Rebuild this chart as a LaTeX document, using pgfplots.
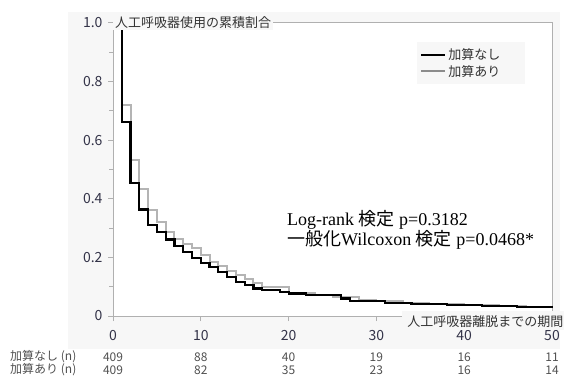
\documentclass[border=0pt]{standalone}
\usepackage{pgfplots}
\pgfplotsset{compat=1.18}
\usepackage{fontspec}
\setmainfont{Liberation Serif}
\newfontfamily\jp{Noto Sans CJK JP}
\definecolor{panel}{HTML}{F7F7F7}
\definecolor{framec}{HTML}{B0B0B0}
\definecolor{ticklab}{HTML}{333348}
\definecolor{curvegray}{HTML}{B4B4B4}
\definecolor{risktext}{HTML}{505050}
\tikzset{risk/.style={font=\jp\fontsize{12}{12}\selectfont, text=risktext}}
\begin{document}
\begin{tikzpicture}[x=1pt,y=1pt]
\useasboundingbox (0,0) rectangle (564,376);
\fill[panel] (68,27) rectangle (560,364);
\begin{axis}[
  name=a,
  at={(113pt,60pt)}, anchor=south west,
  scale only axis, width=439pt, height=293.3pt,
  xmin=0, xmax=50, ymin=0, ymax=1,
  clip=false,
  axis background/.style={fill=white},
  axis line style={framec, line width=0.9pt},
  xtick={0,10,20,30,40,50},
  xticklabels={0,10,20,30,40,50},
  ytick={0,0.2,0.4,0.6,0.8,1.0},
  yticklabels={0,0.2,0.4,0.6,0.8,1.0},
  minor ytick={0.1,0.3,0.5,0.7,0.9},
  tick align=outside, tick pos=left,
  major tick length=5pt, minor tick length=4pt,
  tick style={framec, line width=0.9pt},
  ticklabel style={font=\jp\fontsize{14}{14}\selectfont, text=ticklab},
  yticklabel style={xshift=-2pt},
  xticklabel style={yshift=-6pt},
  legend style={at={(0.6925,0.934)}, anchor=north west, fill=panel, draw=none,
    font=\jp\fontsize{13}{15}\selectfont, text=black!80, inner xsep=3pt, inner ysep=4.5pt, row sep=0pt},
  legend cell align=left,
  legend image code/.code={\draw[#1] (0pt,0pt) -- (24pt,0pt);},
]
\addplot[const plot, draw=curvegray, line width=2pt, forget plot] coordinates {
(1,0.975)(1,0.719)(2,0.532)(3,0.433)(4,0.361)(5,0.321)(6,0.287)(7,0.262)(8,0.245)(9,0.231)(10,0.208)(11,0.185)(12,0.170)(13,0.154)(14,0.140)(15,0.125)(16,0.111)(17,0.100)(20,0.080)(23,0.072)(25,0.066)(28,0.056)(30,0.050)(33,0.045)(36,0.040)(40,0.036)(44,0.033)(47,0.030)(50,0.030)
};
\addplot[const plot, draw=black, line width=2.2pt] coordinates {
(1,0.975)(1,0.662)(2,0.454)(3,0.363)(4,0.310)(5,0.287)(6,0.261)(7,0.238)(8,0.219)(9,0.197)(10,0.182)(11,0.168)(12,0.151)(13,0.134)(14,0.117)(15,0.106)(16,0.094)(17,0.089)(19,0.083)(20,0.077)(22,0.072)(26,0.060)(27,0.052)(31,0.045)(34,0.041)(38,0.038)(42,0.035)(46,0.032)(50,0.030)
};
\addlegendentry{加算なし\hspace*{20pt}}
\addlegendimage{draw=black!45, line width=2pt}
\addlegendentry{加算あり\hspace*{20pt}}
% numbers at risk
\node[risk] at (axis cs:0,-0.140) {409};
\node[risk] at (axis cs:10,-0.140) {88};
\node[risk] at (axis cs:20,-0.140) {40};
\node[risk] at (axis cs:30,-0.140) {19};
\node[risk] at (axis cs:40,-0.140) {16};
\node[risk] at (axis cs:50,-0.140) {11};
\node[risk] at (axis cs:0,-0.184) {409};
\node[risk] at (axis cs:10,-0.184) {82};
\node[risk] at (axis cs:20,-0.184) {35};
\node[risk] at (axis cs:30,-0.184) {23};
\node[risk] at (axis cs:40,-0.184) {16};
\node[risk] at (axis cs:50,-0.184) {14};
\end{axis}
% y axis title on top border
\node[anchor=west, fill=panel, inner xsep=2pt, inner ysep=1.5pt, font=\jp\fontsize{13}{13}\selectfont, text=black!80] at (a.north west) {人工呼吸器使用の累積割合};
% x axis title at bottom right
\fill[panel] (402,46) rectangle (564,65);
\node[anchor=east, inner sep=0.5pt, font=\jp\fontsize{13}{13}\selectfont, text=black!80] at (564,54) {人工呼吸器離脱までの期間};
% annotation
\node[anchor=base west, inner sep=0pt, font=\fontsize{18}{18}\selectfont] at (287,151) {Log-rank {\jp 検定} p=0.3182};
\node[anchor=base west, inner sep=0pt, font=\fontsize{18}{18}\selectfont] at (287,131) {{\jp 一般化}Wilcoxon {\jp 検定} p=0.0468*};
% at-risk row labels
\node[risk, anchor=west, inner sep=0pt] at (10,19) {加算なし (n)};
\node[risk, anchor=west, inner sep=0pt] at (10,6) {加算あり (n)};
\end{tikzpicture}
\end{document}
